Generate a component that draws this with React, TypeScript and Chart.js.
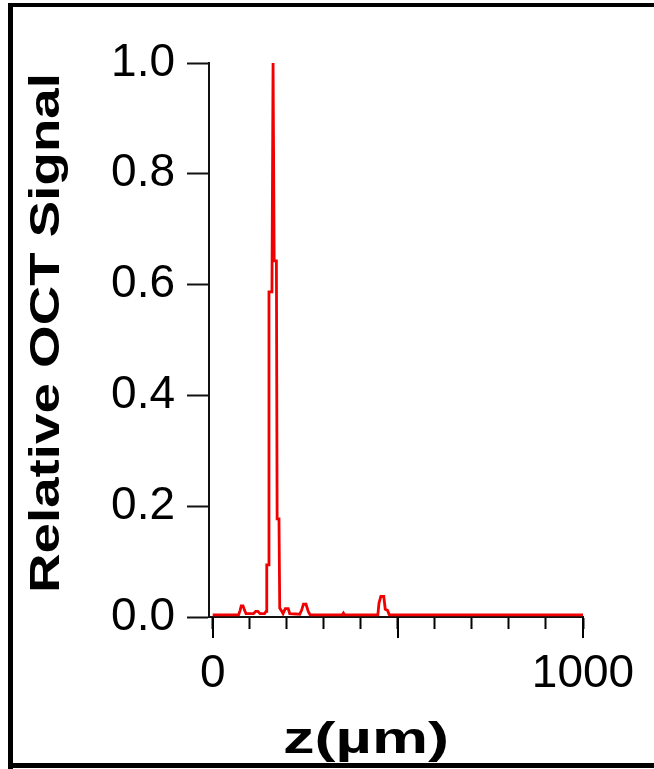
import { useEffect, useRef } from 'react';
import { Chart, registerables } from 'chart.js';

Chart.register(...registerables);

// Depth (µm) and relative OCT signal
const depthUm = [0, 70, 74, 77, 82, 86, 90, 110, 116, 122, 128, 140, 144, 146, 151, 152, 160, 163, 165, 166, 172, 174, 179, 181, 185, 190, 196, 204, 208, 235, 240, 245, 252, 258, 263, 350, 353, 356, 446, 449, 454, 462, 466, 472, 477, 1000];
const signal = [0.004, 0.004, 0.012, 0.02, 0.02, 0.012, 0.006, 0.006, 0.01, 0.01, 0.006, 0.006, 0.01, 0.094, 0.094, 0.587, 0.587, 1.0, 1.0, 0.643, 0.643, 0.177, 0.177, 0.016, 0.012, 0.006, 0.015, 0.015, 0.006, 0.005, 0.012, 0.023, 0.023, 0.01, 0.004, 0.004, 0.007, 0.004, 0.004, 0.025, 0.037, 0.037, 0.014, 0.012, 0.004, 0.004];

const xTickValues = [0, 100, 200, 300, 400, 500, 600, 700, 800, 900, 1000];
const xTickLabels = ['0', '', '', '', '', '', '', '', '', '', '1000'];
const xMajorTicks = [0, 500, 1000];
const yTickValues = [0, 0.2, 0.4, 0.6, 0.8, 1.0];
const yTickLabels = ['0.0', '0.2', '0.4', '0.6', '0.8', '1.0'];
const xTitle = 'z(µm)';
const yTitle = 'Relative OCT Signal';

const framePlugin = {
  id: 'frameAndTitles',
  afterDraw(chart: any) {
    const ctx = chart.ctx as CanvasRenderingContext2D;
    const xs = chart.scales.x;
    const area = chart.chartArea;
    ctx.save();
    // longer major ticks
    ctx.strokeStyle = '#000';
    ctx.lineWidth = 2;
    xMajorTicks.forEach((v) => {
      const px = Math.round(xs.getPixelForValue(v));
      ctx.beginPath();
      ctx.moveTo(px, area.bottom);
      ctx.lineTo(px, area.bottom + 21);
      ctx.stroke();
    });
    // outer frame
    ctx.fillStyle = '#000';
    ctx.fillRect(8, 3, 5, 766);
    ctx.fillRect(8, 3, 646, 4);
    ctx.fillRect(8, 763, 646, 5);
    // y title (stretched along reading direction)
    ctx.font = 'bold 43px "Liberation Sans", Arial, sans-serif';
    ctx.textAlign = 'center';
    ctx.textBaseline = 'alphabetic';
    ctx.fillStyle = '#000';
    const yw = ctx.measureText(yTitle).width;
    ctx.save();
    ctx.translate(59, 333);
    ctx.rotate(-Math.PI / 2);
    ctx.scale(520 / yw, 1);
    ctx.fillText(yTitle, 0, 0);
    ctx.restore();
    // x title
    ctx.font = 'bold 44px "Liberation Sans", Arial, sans-serif';
    const xw = ctx.measureText(xTitle).width;
    ctx.save();
    ctx.translate(366, 753);
    ctx.scale(166 / xw, 1);
    ctx.fillText(xTitle, 0, 0);
    ctx.restore();
    ctx.restore();
  },
};

export default function App() {
  const ref = useRef<HTMLCanvasElement>(null);
  useEffect(() => {
    document.body.style.margin = '0';
    const tickFont = { family: '"Liberation Sans", Arial, sans-serif', size: 46 };
    const chart = new Chart(ref.current as HTMLCanvasElement, {
      type: 'line',
      data: {
        datasets: [
          {
            data: depthUm.map((z, i) => ({ x: z, y: signal[i] })),
            borderColor: '#f00000',
            borderWidth: 2.8,
            pointRadius: 0,
            tension: 0,
            fill: false,
          },
        ],
      },
      options: {
        responsive: false,
        animation: false,
        layout: { padding: { left: 0, top: 63, right: 71, bottom: 0 } },
        plugins: { legend: { display: false }, tooltip: { enabled: false } },
        scales: {
          x: {
            type: 'linear',
            min: -10,
            max: 1000,
            afterBuildTicks: (s: any) => {
              s.ticks = xTickValues.map((v) => ({ value: v }));
            },
            afterFit: (s: any) => {
              s.height = 152;
            },
            grid: { drawOnChartArea: false, color: '#000', tickColor: '#000', tickLength: 12, tickWidth: 2 },
            border: { display: true, color: '#111', width: 2 },
            ticks: {
              autoSkip: false,
              maxRotation: 0,
              padding: 18,
              color: '#000',
              font: tickFont,
              callback: (_v: any, i: number) => xTickLabels[i],
            },
          },
          y: {
            type: 'linear',
            min: 0,
            max: 1,
            afterBuildTicks: (s: any) => {
              s.ticks = yTickValues.map((v) => ({ value: v }));
            },
            afterFit: (s: any) => {
              s.width = 209;
            },
            grid: { drawOnChartArea: false, color: '#000', tickColor: '#111', tickLength: 22, tickWidth: 2 },
            border: { display: true, color: '#111', width: 2 },
            ticks: {
              autoSkip: false,
              padding: 12,
              color: '#000',
              font: tickFont,
              callback: (_v: any, i: number) => yTickLabels[i],
            },
          },
        },
      },
      plugins: [framePlugin],
    });
    return () => chart.destroy();
  }, []);
  return (
    <div style={{ position: 'fixed', left: 0, top: 0, width: 654, height: 769, background: '#fff' }}>
      <canvas ref={ref} width={654} height={769} style={{ display: 'block' }} />
    </div>
  );
}
